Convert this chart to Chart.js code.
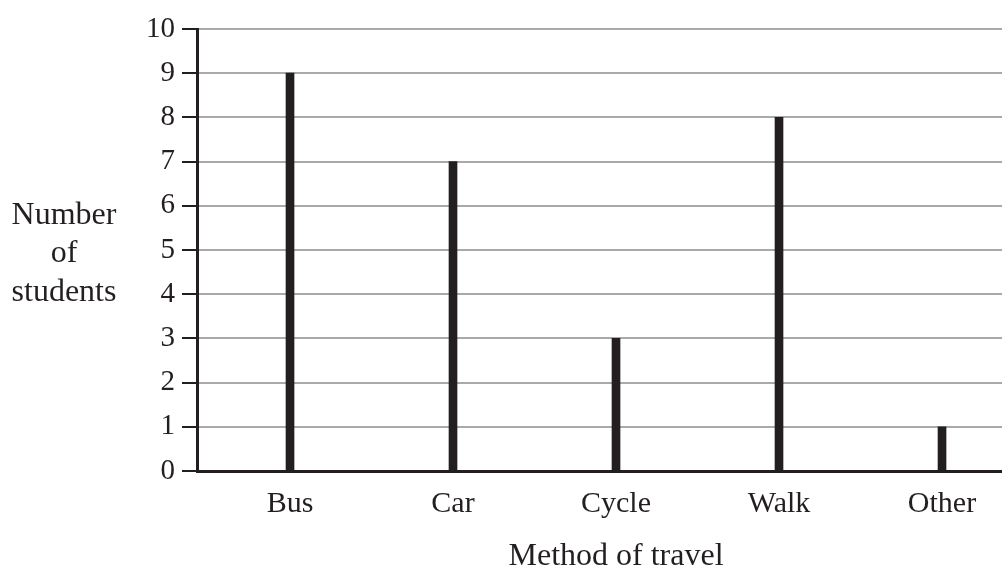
<!DOCTYPE html>
<html>
<head>
<meta charset="utf-8">
<script src="https://cdn.jsdelivr.net/npm/chart.js@4/dist/chart.umd.min.js"></script>
<style>
  html, body { margin: 0; padding: 0; background: #ffffff; }
  #wrap { width: 1002px; height: 568px; position: relative; }
</style>
</head>
<body>
<div id="wrap"><canvas id="c"></canvas></div>
<script>
const categories = ["Bus", "Car", "Cycle", "Walk", "Other"];
const studentCounts = [9, 7, 3, 8, 1];
const yTicks = [0, 1, 2, 3, 4, 5, 6, 7, 8, 9, 10];
const yTitleLines = ["Number", "of", "students"];
const xTitle = "Method of travel";

const FONT = '"Liberation Serif", "Times New Roman", serif';
const INK = '#231f20';
const GRID = '#a7a9ac';

const titlePlugin = {
  id: 'titles',
  afterDraw(chart) {
    const ctx = chart.ctx;
    const area = chart.chartArea;
    ctx.save();
    ctx.fillStyle = INK;
    ctx.font = '32px ' + FONT;
    ctx.textAlign = 'center';
    ctx.textBaseline = 'alphabetic';
    const midY = (area.top + area.bottom) / 2;
    const lineGap = 38.5;
    yTitleLines.forEach((t, i) => {
      ctx.fillText(t, 64, midY + 12 + (i - 1) * lineGap);
    });
    const xs = chart.scales.x;
    ctx.fillText(xTitle, xs.getPixelForValue(3), chart.height - 3);
    ctx.restore();
  }
};

new Chart(document.getElementById('c'), {
  type: 'bar',
  data: {
    datasets: [{
      data: categories.map((c, i) => ({ x: i + 1, y: studentCounts[i] })),
      backgroundColor: INK,
      borderWidth: 0,
      barThickness: 8
    }]
  },
  options: {
    responsive: true,
    maintainAspectRatio: false,
    animation: false,
    devicePixelRatio: 1,
    layout: { padding: { top: 29, right: 0, bottom: 0, left: 0 } },
    plugins: { legend: { display: false }, tooltip: { enabled: false } },
    scales: {
      x: {
        type: 'linear',
        offset: false,
        min: 0.4294,
        max: 5.368,
        afterBuildTicks: (s) => { s.ticks = categories.map((c, i) => ({ value: i + 1 })); },
        afterFit: (s) => { s.height = 97; },
        ticks: {
          callback: (v) => categories[Math.round(v) - 1] || '',
          color: INK,
          font: { family: FONT, size: 30 },
          padding: 15,
          maxRotation: 0,
          autoSkip: false
        },
        grid: { drawOnChartArea: false, drawTicks: false },
        border: { display: true, color: INK, width: 3 }
      },
      y: {
        min: 0,
        max: 10,
        afterBuildTicks: (s) => { s.ticks = yTicks.map(v => ({ value: v })); },
        afterFit: (s) => { s.width = 197; },
        ticks: {
          color: INK,
          font: { family: FONT, size: 29 },
          padding: 7
        },
        grid: {
          color: GRID,
          lineWidth: 2,
          tickColor: INK,
          tickWidth: 2,
          tickLength: 15
        },
        border: { display: true, color: INK, width: 3 }
      }
    }
  },
  plugins: [titlePlugin]
});
</script>
</body>
</html>
